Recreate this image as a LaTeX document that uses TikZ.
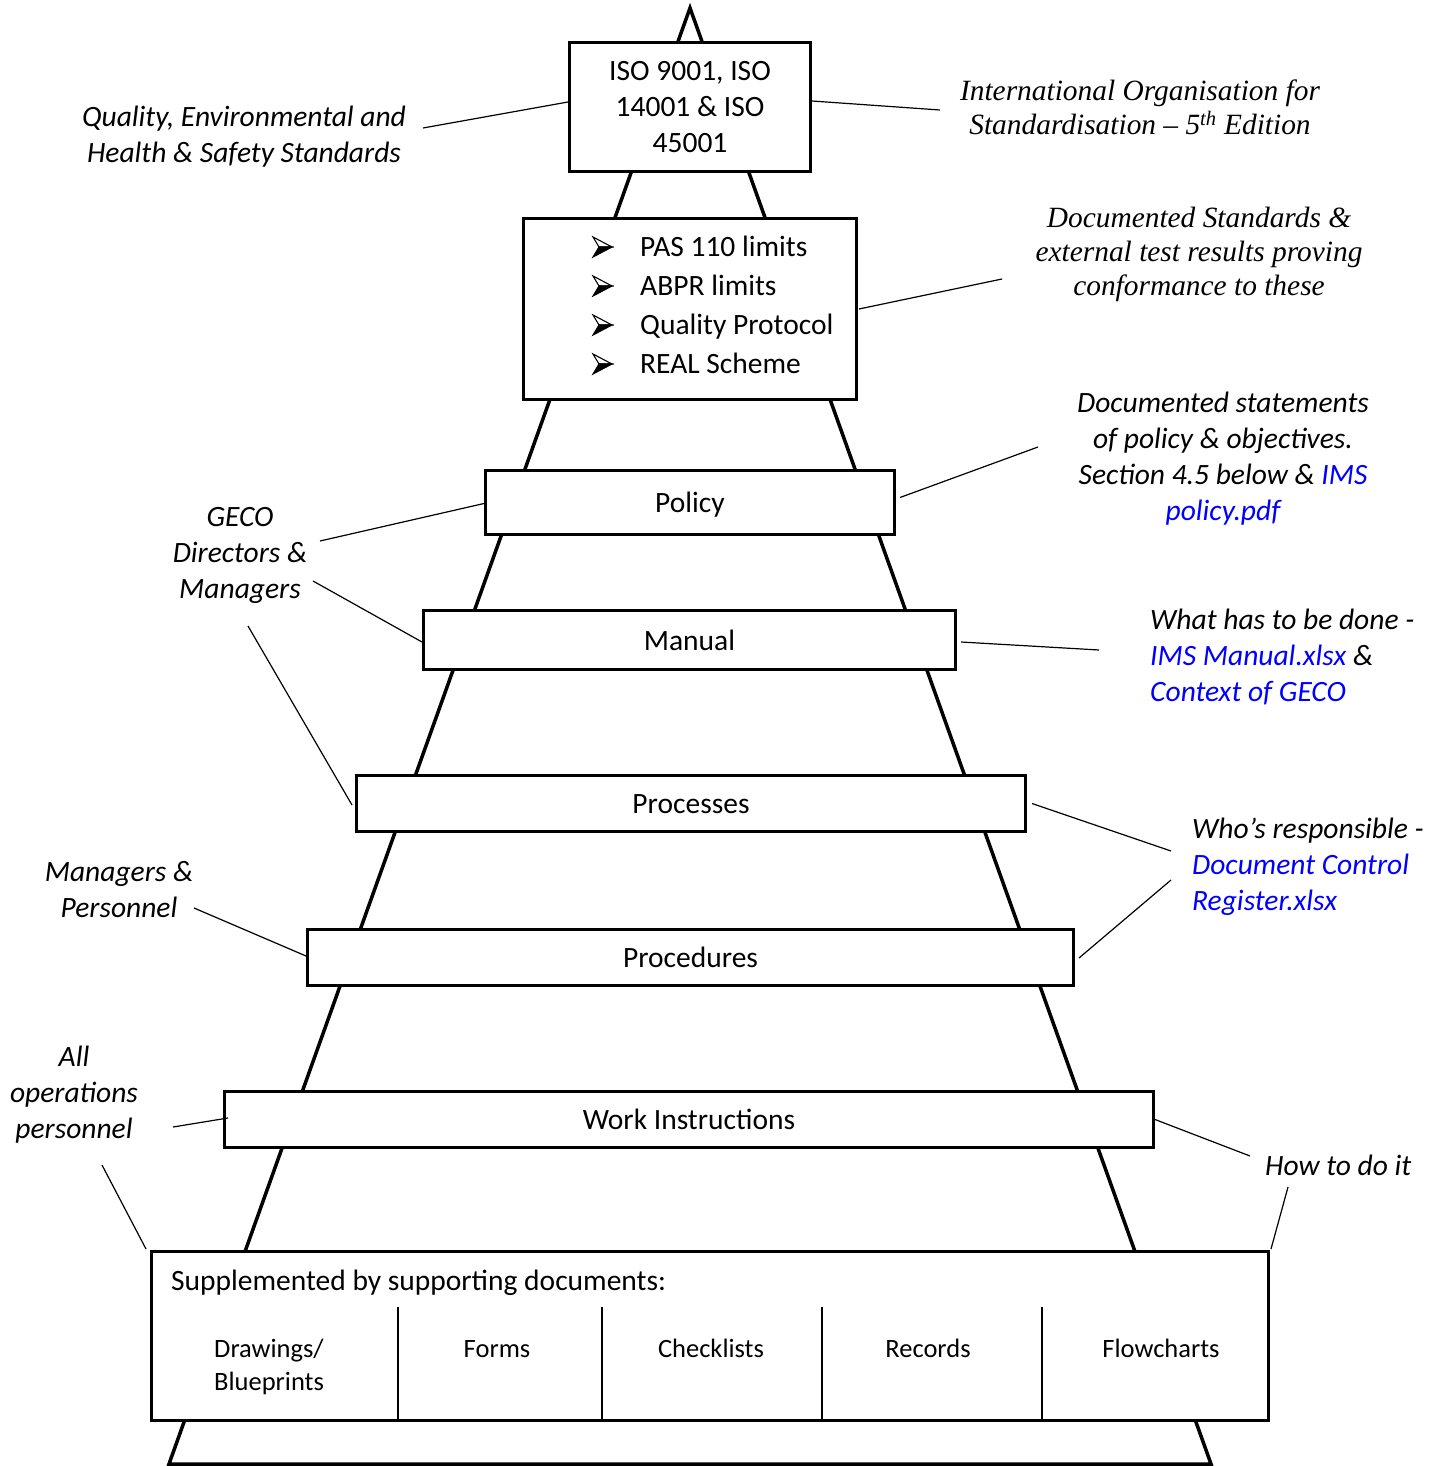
\documentclass[tikz,border=0pt]{standalone}
\usepackage{fontspec}
\setmainfont{Carlito}
\newfontfamily\tnr{Liberation Serif}
\definecolor{linkblue}{RGB}{0,0,255}
\tikzset{
  arrowbullet/.pic={
    \fill[white] (0,-10) -- (19,0) -- (6,0) -- cycle;
    \draw[line width=1.1pt, line join=miter] (0,-10) -- (19,0) -- (6,0) -- cycle;
    \fill[line width=1.1pt, line join=miter, draw] (0,10) -- (19,0) -- (6,0) -- cycle;
  }
}
\begin{document}
\begin{tikzpicture}[x=1pt,y=-1pt,
  box/.style={draw, line width=3pt, fill=white, inner sep=0pt, font=\fontsize{29.5}{36}\selectfont},
  onebox/.style={box, text height=28.2pt, text depth=7.8pt},
  lbl/.style={inner sep=0pt, font=\fontsize{29.5}{36}\selectfont},
  cell/.style={inner sep=0pt, font=\fontsize{26.5}{33}\selectfont},
  ann/.style={inner sep=0pt, font=\fontsize{29.5}{36}\selectfont\itshape},
  annt/.style={inner sep=0pt, font=\tnr\fontsize{29.4}{34}\selectfont\itshape},
  conn/.style={line width=1.2pt},
  tower/.style={line width=3.5pt, line join=miter},
  divider/.style={line width=1.2pt},
]
\useasboundingbox (0,0) rectangle (1437,1466);

% tower outline
\coordinate (apex) at (690,8);
\coordinate (bl) at (169,1464);
\coordinate (br) at (1211,1464);
\draw[tower] (apex) -- (bl) -- (br) -- cycle;

% boxes
\node[box, minimum width=241, minimum height=129, align=center] (iso) at (690,107)
  {\rule{0pt}{29.2pt}ISO 9001, ISO\\\strut 14001 \& ISO\\\strut 45001};
\node[box, minimum width=333, minimum height=181] (pas) at (689.5,309) {};
\node[onebox, minimum width=409, minimum height=64] (policy) at (690,502.5) {Policy};
\node[onebox, minimum width=532, minimum height=59] (manual) at (689.5,640) {Manual};
\node[onebox, minimum width=669, minimum height=56] (processes) at (691,803.5) {Processes};
\node[onebox, minimum width=766, minimum height=56] (procedures) at (690.5,957.5) {Procedures};
\node[onebox, minimum width=929, minimum height=56] (work) at (689,1119.5) {Work Instructions};
\node[box, minimum width=1117, minimum height=169] (supp) at (710,1336) {};

% PAS list
\pic at (593,247) {arrowbullet};
\pic at (593,286) {arrowbullet};
\pic at (593,325) {arrowbullet};
\pic at (593,364) {arrowbullet};
\node[lbl, anchor=base west] (pas1) at (640,256) {PAS 110 limits};
\node[lbl, anchor=base west] (pas2) at (640,295) {ABPR limits};
\node[lbl, anchor=base west] (pas3) at (640,334) {Quality Protocol};
\node[lbl, anchor=base west] (pas4) at (640,373) {REAL Scheme};

% supporting documents
\node[lbl, anchor=base west] (supptitle) at (171,1290) {Supplemented by supporting documents:};
\draw[divider] (398,1307) -- (398,1420);
\draw[divider] (602,1307) -- (602,1420);
\draw[divider] (822,1307) -- (822,1420);
\draw[divider] (1042,1307) -- (1042,1420);
\node[cell, anchor=base west] (draw1) at (214,1357) {Drawings/};
\node[cell, anchor=base west] (draw2) at (214,1390) {Blueprints};
\node[cell, anchor=base] (forms) at (497,1357) {Forms};
\node[cell, anchor=base] (check) at (711,1357) {Checklists};
\node[cell, anchor=base] (records) at (928,1357) {Records};
\node[cell, anchor=base] (flow) at (1161,1357) {Flowcharts};

% annotations
\node[ann, align=center, anchor=north] (qual) at (244,100.8)
  {\strut Quality, Environmental and\\\strut Health \& Safety Standards};
\node[annt, align=center, anchor=north] (intl) at (1140,76.2)
  {\strut International Organisation for\\\strut Standardisation – 5\textsuperscript{th} Edition};
\node[annt, align=center, anchor=north] (docstd) at (1199,203.2)
  {\strut Documented Standards \&\\\strut external test results proving\\\strut conformance to these};
\node[ann, align=center, anchor=north] (docpol) at (1223,386.8)
  {\strut Documented statements\\\strut of policy \& objectives.\\\strut Section 4.5 below \& \textcolor{linkblue}{IMS}\\\strut\textcolor{linkblue}{policy.pdf}};
\node[ann, align=center, anchor=north] (geco) at (240,500.8)
  {\strut GECO\\\strut Directors \&\\\strut Managers};
\node[ann, align=left, anchor=north west] (what) at (1150,603.8)
  {\strut What has to be done -\\\strut\textcolor{linkblue}{IMS Manual.xlsx} \&\\\strut\textcolor{linkblue}{Context of GECO}};
\node[ann, align=left, anchor=north west] (who) at (1192,812.8)
  {\strut Who’s responsible -\\\strut\textcolor{linkblue}{Document Control}\\\strut\textcolor{linkblue}{Register.xlsx}};
\node[ann, align=center, anchor=north] (mgrs) at (119,855.8)
  {\strut Managers \&\\\strut Personnel};
\node[ann, align=center, anchor=north] (allops) at (74,1040.8)
  {\strut All\\\strut operations\\\strut personnel};
\node[ann, anchor=base west] (how) at (1265,1175) {How to do it};

% connector free ends
\coordinate (e1) at (423,128);
\coordinate (e2) at (940,110);
\coordinate (e3) at (1002,279);
\coordinate (e4) at (1038,447);
\coordinate (e5) at (320,541);
\coordinate (e6) at (313,581);
\coordinate (e7) at (248,626);
\coordinate (e8) at (1099,650);
\coordinate (e9) at (1171,851);
\coordinate (e10) at (1171,880);
\coordinate (e11) at (194,908);
\coordinate (e12) at (173,1127);
\coordinate (e13) at (102,1165);
\coordinate (e14) at (1250,1156);
\coordinate (e15) at (1288,1187);

\draw[conn] (e1) -- ([yshift=5pt]iso.west);
\draw[conn] (e2) -- ([yshift=6pt]iso.east);
\draw[conn] (e3) -- ([xshift=1.5pt]pas.east);
\draw[conn] (e4) -- ([xshift=4pt,yshift=5pt]policy.east);
\draw[conn] (e5) -- ([yshift=-1pt]policy.west);
\draw[conn] (e6) -- ([yshift=-2pt]manual.west);
\draw[conn] (e7) -- ([xshift=-3pt,yshift=-1.5pt]processes.west);
\draw[conn] (e8) -- ([xshift=4pt,yshift=-2pt]manual.east);
\draw[conn] (e9) -- ([xshift=5pt]processes.east);
\draw[conn] (e10) -- ([xshift=4pt,yshift=-0.5pt]procedures.east);
\draw[conn] (e11) -- ([yshift=1.5pt]procedures.west);
\draw[conn] (e12) -- ([xshift=5pt,yshift=1.5pt]work.west);
\draw[conn] (e13) -- ([xshift=-4pt,yshift=1pt]supp.north west);
\draw[conn] (e14) -- (work.east);
\draw[conn] (e15) -- ([xshift=1pt,yshift=1pt]supp.north east);
\end{tikzpicture}
\end{document}
